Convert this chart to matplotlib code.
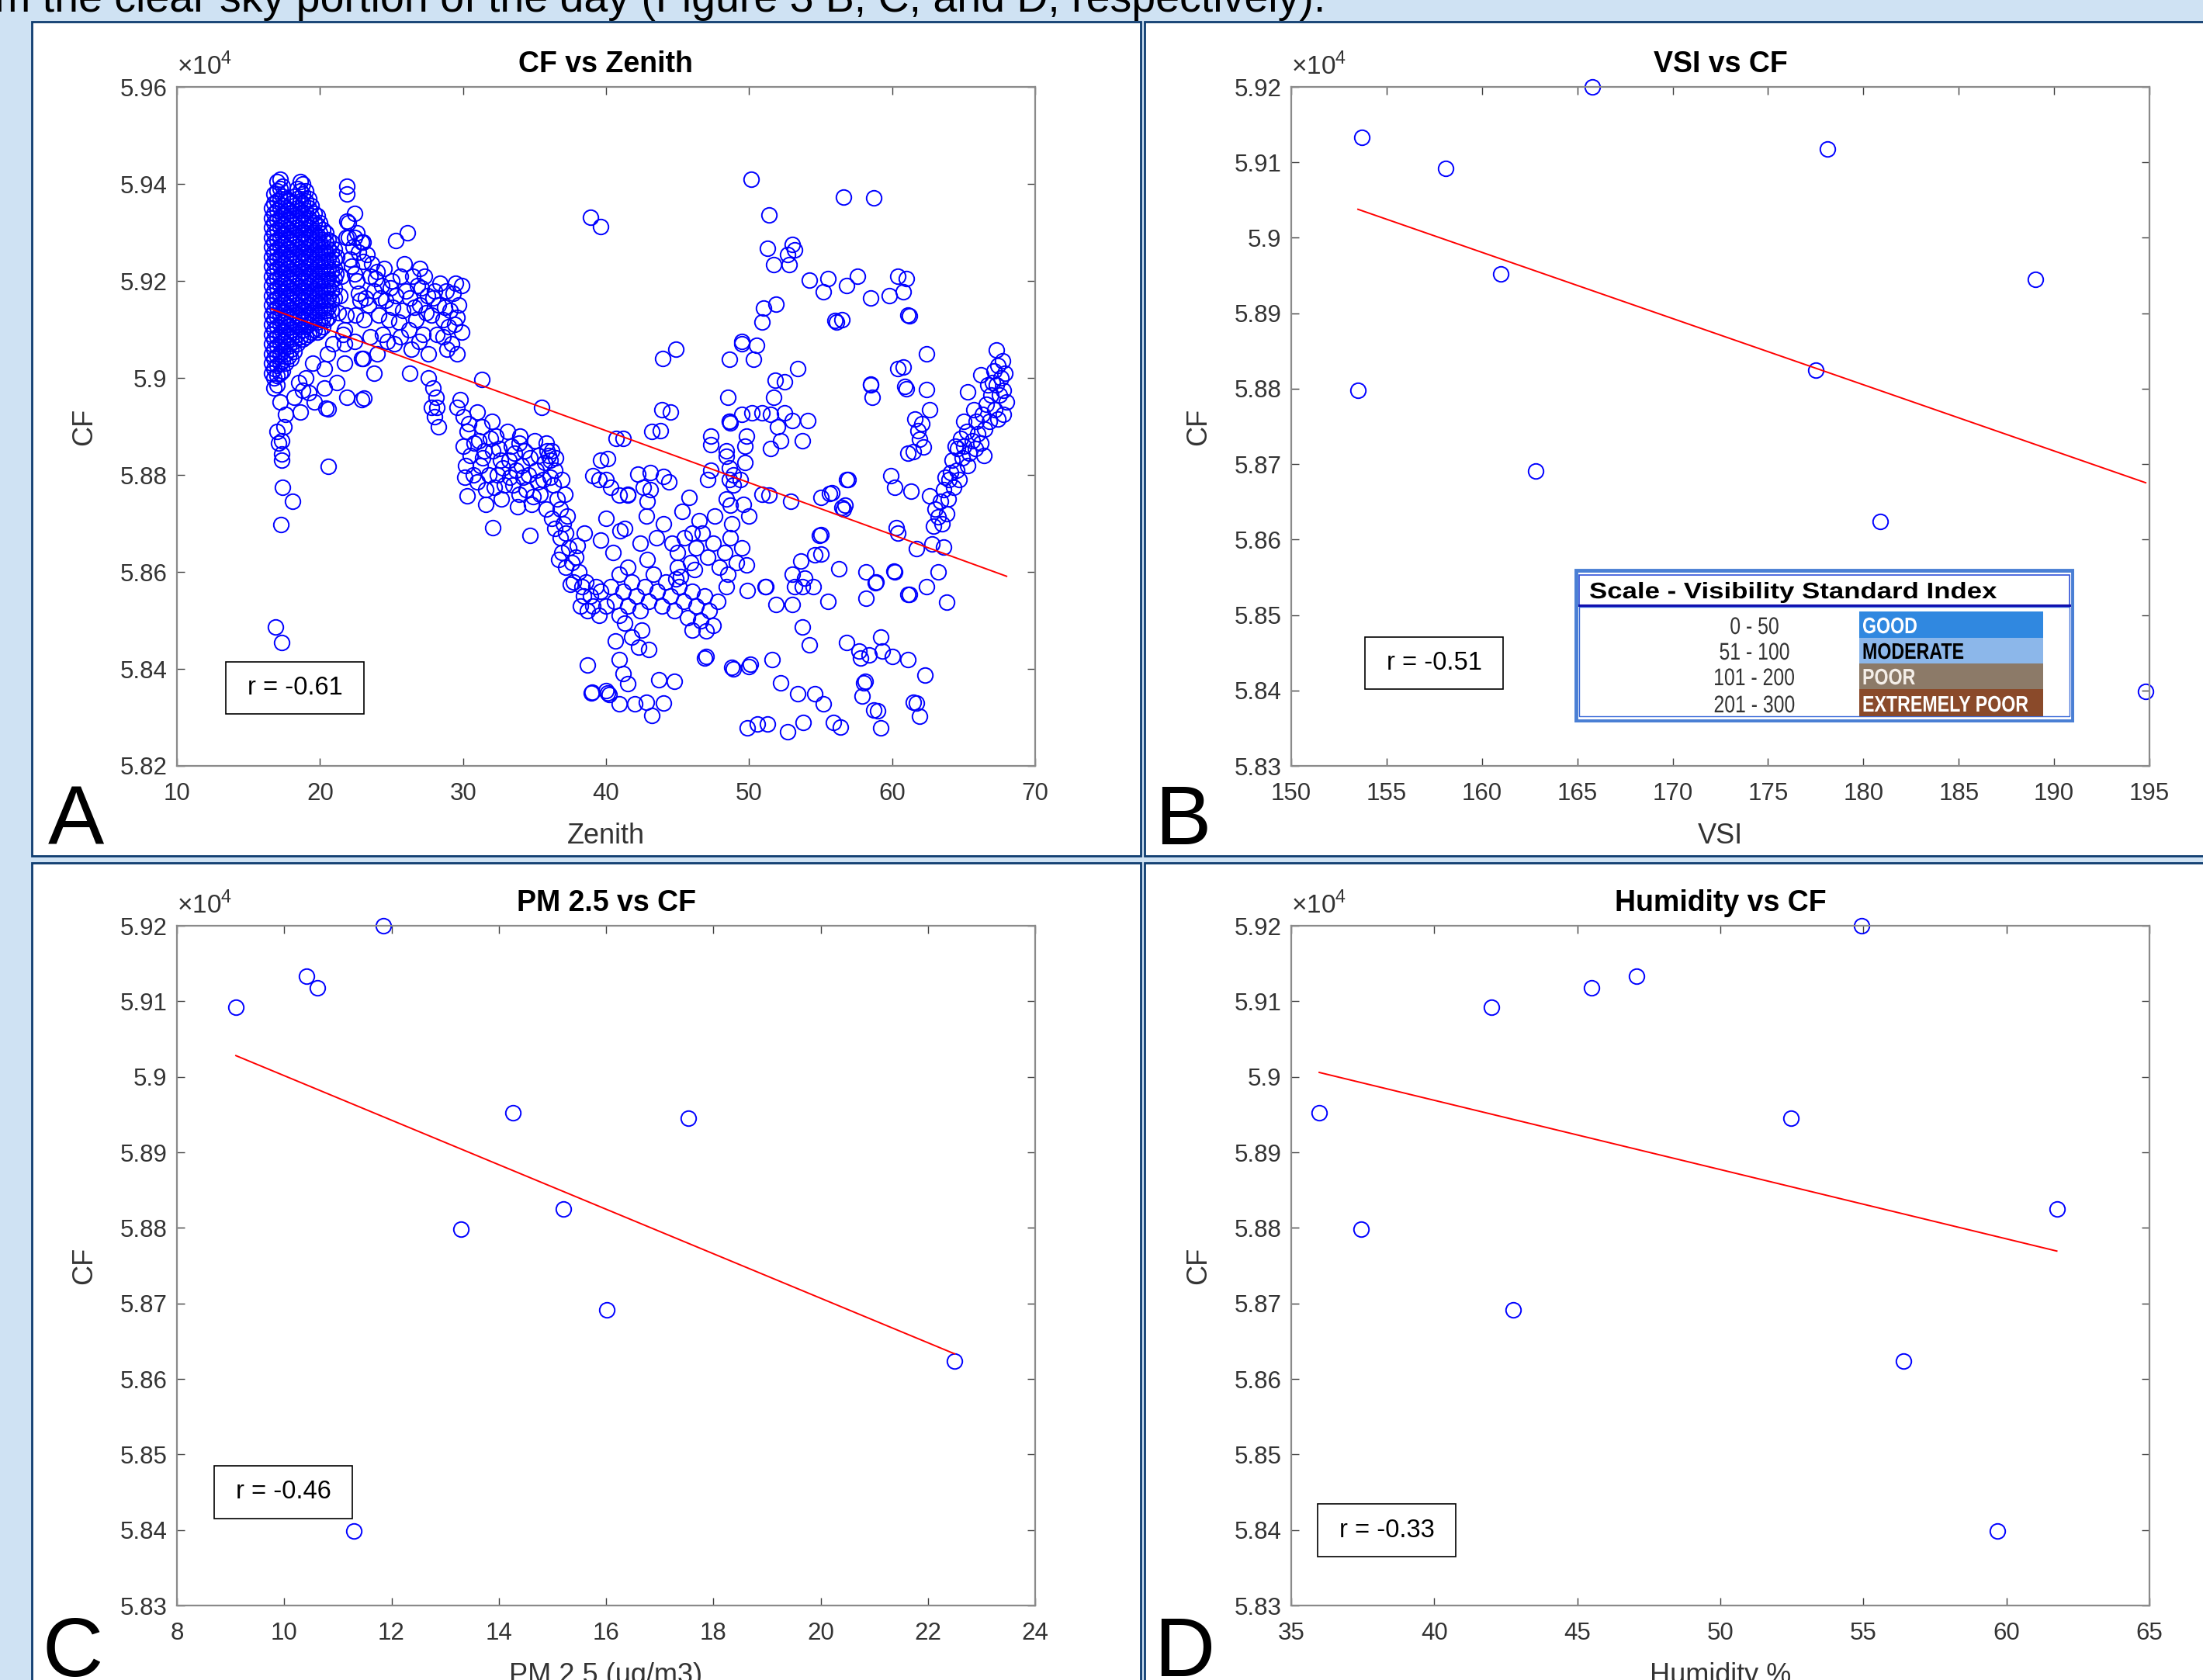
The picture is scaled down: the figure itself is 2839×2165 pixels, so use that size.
import numpy as np
import matplotlib.pyplot as plt
from matplotlib.patches import Rectangle, PathPatch
from matplotlib.ticker import FuncFormatter
from matplotlib.textpath import TextPath
from matplotlib.font_manager import FontProperties
from matplotlib.transforms import Affine2D

plt.rcParams['font.family'] = ['Liberation Sans', 'DejaVu Sans']
plt.rcParams['mathtext.fontset'] = 'custom'
plt.rcParams['mathtext.rm'] = 'Liberation Sans'

W, H = 2839, 2165

# daily CF (x10^4), shared by panels B, C, D
cf_days = [5.9133, 5.9092, 5.8952, 5.8798, 5.8691, 5.9200, 5.9118, 5.8825, 5.8624, 5.8945, 5.8399]
vsi = [153.7, 158.1, 161.0, 153.5, 162.8, 165.8, 178.1, 177.5, 180.9, 189.0, 194.8]
pm25 = [10.41, 9.1, 14.26, 13.29, 16.01, 11.85, 10.62, 15.2, 22.5, 17.53, 11.3]
humidity = [47.08, 42.0, 35.98, 37.45, 42.76, 54.93, 45.5, 61.76, 56.4, 52.48, 59.69]
r_labels = ['r = -0.61', 'r = -0.51', 'r = -0.46', 'r = -0.33']

# panel A: CF vs zenith, dense morning cluster as columns (zenith, [cf ...])
blob_cols = [
    (16.6, [5.935, 5.933, 5.931, 5.929, 5.927, 5.925, 5.923, 5.921, 5.919, 5.917, 5.915, 5.913, 5.911, 5.909,
            5.907, 5.905, 5.903, 5.901]),
    (16.8, [5.938, 5.936, 5.934, 5.932, 5.930, 5.928, 5.926, 5.924, 5.922, 5.920, 5.918, 5.916, 5.914, 5.912,
            5.910, 5.908, 5.906, 5.904, 5.902, 5.900, 5.898]),
    (17.0, [5.9405, 5.9385, 5.9365, 5.9345, 5.9325, 5.9305, 5.9285, 5.9265, 5.9245, 5.9225, 5.9205, 5.9185,
            5.9165, 5.9145, 5.9125, 5.9105, 5.9085, 5.9065, 5.9045, 5.9025, 5.9005, 5.8985]),
    (17.2, [5.941, 5.939, 5.937, 5.935, 5.933, 5.931, 5.929, 5.927, 5.925, 5.923, 5.921, 5.919, 5.917, 5.915,
            5.913, 5.911, 5.909, 5.907, 5.905, 5.903, 5.901]),
    (17.4, [5.9395, 5.9375, 5.9355, 5.9335, 5.9315, 5.9295, 5.9275, 5.9255, 5.9235, 5.9215, 5.9195, 5.9175,
            5.9155, 5.9135, 5.9115, 5.9095, 5.9075, 5.9055, 5.9035, 5.9015]),
    (17.6, [5.937, 5.935, 5.933, 5.931, 5.929, 5.927, 5.925, 5.923, 5.921, 5.919, 5.917, 5.915, 5.913, 5.911,
            5.909, 5.907, 5.905, 5.903]),
    (17.8, [5.9365, 5.9345, 5.9325, 5.9305, 5.9285, 5.9265, 5.9245, 5.9225, 5.9205, 5.9185, 5.9165, 5.9145,
            5.9125, 5.9105, 5.9085, 5.9065, 5.9045]),
    (18.0, [5.936, 5.934, 5.932, 5.930, 5.928, 5.926, 5.924, 5.922, 5.920, 5.918, 5.916, 5.914, 5.912, 5.910,
            5.908, 5.906, 5.904]),
    (18.2, [5.9375, 5.9355, 5.9335, 5.9315, 5.9295, 5.9275, 5.9255, 5.9235, 5.9215, 5.9195, 5.9175, 5.9155,
            5.9135, 5.9115, 5.9095, 5.9075, 5.9055]),
    (18.4, [5.939, 5.937, 5.935, 5.933, 5.931, 5.929, 5.927, 5.925, 5.923, 5.921, 5.919, 5.917, 5.915, 5.913,
            5.911, 5.909, 5.907]),
    (18.6, [5.9405, 5.9385, 5.9365, 5.9345, 5.9325, 5.9305, 5.9285, 5.9265, 5.9245, 5.9225, 5.9205, 5.9185,
            5.9165, 5.9145, 5.9125, 5.9105, 5.9085]),
    (18.8, [5.940, 5.938, 5.936, 5.934, 5.932, 5.930, 5.928, 5.926, 5.924, 5.922, 5.920, 5.918, 5.916, 5.914,
            5.912, 5.910, 5.908]),
    (19.0, [5.9385, 5.9365, 5.9345, 5.9325, 5.9305, 5.9285, 5.9265, 5.9245, 5.9225, 5.9205, 5.9185, 5.9165,
            5.9145, 5.9125, 5.9105, 5.9085]),
    (19.2, [5.937, 5.935, 5.933, 5.931, 5.929, 5.927, 5.925, 5.923, 5.921, 5.919, 5.917, 5.915, 5.913, 5.911,
            5.909]),
    (19.4, [5.9355, 5.9335, 5.9315, 5.9295, 5.9275, 5.9255, 5.9235, 5.9215, 5.9195, 5.9175, 5.9155, 5.9135,
            5.9115, 5.9095]),
    (19.6, [5.934, 5.932, 5.930, 5.928, 5.926, 5.924, 5.922, 5.920, 5.918, 5.916, 5.914, 5.912, 5.910]),
    (19.8, [5.9335, 5.9315, 5.9295, 5.9275, 5.9255, 5.9235, 5.9215, 5.9195, 5.9175, 5.9155, 5.9135, 5.9115,
            5.9095]),
    (20.0, [5.932, 5.930, 5.928, 5.926, 5.924, 5.922, 5.920, 5.918, 5.916, 5.914, 5.912, 5.910]),
    (20.2, [5.9305, 5.9285, 5.9265, 5.9245, 5.9225, 5.9205, 5.9185, 5.9165, 5.9145, 5.9125, 5.9105]),
    (20.4, [5.930, 5.928, 5.926, 5.924, 5.922, 5.920, 5.918, 5.916, 5.914, 5.912]),
    (20.6, [5.9285, 5.9265, 5.9245, 5.9225, 5.9205, 5.9185, 5.9165, 5.9145, 5.9125]),
    (20.8, [5.928, 5.926, 5.924, 5.922, 5.920, 5.918, 5.916, 5.914]),
    (21.0, [5.9265, 5.9245, 5.9225, 5.9205, 5.9185, 5.9165]),
]

# morning tail below / around the cluster
morning_pts = [
    (20.5, 5.905), (20.9, 5.907), (20.3, 5.902), (19.5, 5.903), (19.0, 5.900), (18.5, 5.899), (19.2, 5.897),
    (20.3, 5.898), (20.4, 5.8938), (18.8, 5.8975), (22.9, 5.8955), (23.1, 5.8958), (20.6, 5.8936), (20.6, 5.8817),
    (17.3, 5.8843), (17.3, 5.883), (17.4, 5.8774), (18.07, 5.8745), (17.25, 5.8697), (16.9, 5.8486), (17.3, 5.8455),
    (17.2, 5.895), (17.5, 5.890), (17.0, 5.889), (17.3, 5.887), (18.2, 5.896), (18.6, 5.893), (19.6, 5.895),
    (21.2, 5.899), (21.9, 5.896), (17.1, 5.8865), (17.6, 5.8925),
]

# band zenith 21-30
band_20_30 = [
    (21.2, 5.925), (21.5, 5.921), (21.4, 5.917), (21.8, 5.913), (21.6, 5.909), (22.0, 5.929), (22.3, 5.927),
    (22.6, 5.930), (22.9, 5.928), (22.2, 5.923), (22.6, 5.920), (23.0, 5.924), (22.8, 5.916), (23.1, 5.912),
    (22.5, 5.913), (23.5, 5.921), (23.8, 5.918), (23.4, 5.915), (24.0, 5.922), (24.3, 5.919), (24.1, 5.913),
    (24.6, 5.916), (24.8, 5.912), (24.4, 5.909), (25.0, 5.920), (25.3, 5.917), (25.6, 5.921), (25.3, 5.9283),
    (26.1, 5.9300), (25.8, 5.914), (26.2, 5.910), (26.0, 5.918), (26.5, 5.921), (26.8, 5.919), (27.0, 5.915),
    (27.3, 5.921), (27.5, 5.917), (26.7, 5.912), (27.2, 5.909), (27.8, 5.913), (28.0, 5.918), (28.3, 5.915),
    (28.6, 5.912), (28.2, 5.909), (28.8, 5.918), (29.1, 5.914), (29.4, 5.911), (29.2, 5.907), (29.7, 5.915),
    (29.9, 5.919), (29.6, 5.905), (28.9, 5.906), (27.6, 5.905), (26.4, 5.906), (25.2, 5.907), (24.0, 5.905),
    (23.0, 5.904), (23.8, 5.901), (26.3, 5.901), (21.7, 5.910), (21.7, 5.907), (21.7, 5.903), (22.9, 5.904),
    (21.9, 5.9395), (21.9, 5.938), (22.4, 5.934), (22.0, 5.932), (21.8, 5.929), (22.4, 5.929), (23.0, 5.928),
    (22.7, 5.926), (21.9, 5.9323), (27.6, 5.900), (27.9, 5.898), (28.1, 5.896), (28.2, 5.894), (28.0, 5.892),
    (28.3, 5.890), (27.8, 5.894), (31.3, 5.8997),
    (22.1, 5.9245), (22.4, 5.9215), (22.7, 5.9175), (23.3, 5.9255), (23.6, 5.9235), (23.9, 5.9205), (24.2, 5.9165),
    (24.5, 5.9225), (24.9, 5.9185), (25.1, 5.9145), (25.5, 5.9115), (25.9, 5.9235), (26.3, 5.9165), (26.6, 5.9145),
    (27.0, 5.9225), (27.1, 5.9185), (27.4, 5.9135), (27.9, 5.9165), (28.4, 5.9195), (28.7, 5.9145), (29.0, 5.9105),
    (29.3, 5.9175), (29.6, 5.9125), (29.9, 5.9095), (29.5, 5.9195), (28.6, 5.9085), (26.9, 5.9075), (25.6, 5.9085),
    (24.7, 5.9075), (23.5, 5.9085), (22.4, 5.9075), (23.2, 5.9165), (21.3, 5.9135), (21.1, 5.9215),
]

# band zenith 30-40, descending
band_30_40 = [
    (30.0, 5.892), (30.3, 5.889), (30.0, 5.886), (30.5, 5.884), (30.2, 5.882), (30.7, 5.880), (31.0, 5.893),
    (31.3, 5.890), (31.1, 5.887), (31.5, 5.885), (31.2, 5.882), (31.8, 5.880), (31.6, 5.877), (32.0, 5.891),
    (32.3, 5.888), (32.1, 5.885), (32.6, 5.883), (32.4, 5.880), (32.9, 5.878), (32.7, 5.875), (33.1, 5.889),
    (33.4, 5.886), (33.2, 5.883), (33.7, 5.881), (33.5, 5.878), (33.9, 5.876), (34.0, 5.888), (34.3, 5.885),
    (34.1, 5.882), (34.6, 5.880), (34.4, 5.877), (34.8, 5.874), (35.0, 5.887), (35.3, 5.884), (35.1, 5.881),
    (35.6, 5.879), (35.4, 5.876), (35.8, 5.873), (35.9, 5.885), (36.1, 5.883), (36.0, 5.884), (36.2, 5.885),
    (36.4, 5.881), (36.3, 5.878), (36.6, 5.875), (36.8, 5.873), (36.9, 5.879), (37.1, 5.876), (29.6, 5.894),
    (29.8, 5.8955), (33.9, 5.8866), (35.5, 5.894), (32.1, 5.8691), (34.7, 5.8675), (30.3, 5.8757), (31.6, 5.874),
    (36.4, 5.869), (36.8, 5.867), (37.2, 5.868), (36.9, 5.864), (37.4, 5.865), (37.6, 5.862), (37.2, 5.861),
    (37.9, 5.863), (38.1, 5.860), (37.7, 5.858), (38.3, 5.857), (38.6, 5.858), (38.4, 5.855), (38.9, 5.855),
    (39.1, 5.853), (38.7, 5.852), (39.3, 5.857), (38.0, 5.8655), (37.5, 5.8575), (36.7, 5.8625), (39.5, 5.851),
    (38.2, 5.853),
    (30.4, 5.8905), (30.8, 5.8865), (31.4, 5.8835), (31.9, 5.8875), (32.5, 5.8855), (32.8, 5.8815), (33.3, 5.8795),
    (33.6, 5.8845), (34.2, 5.8795), (34.7, 5.8835), (35.2, 5.8785), (35.7, 5.8825), (36.1, 5.8795), (36.5, 5.8835),
    (35.8, 5.8865), (34.9, 5.8755), (33.8, 5.8735), (32.2, 5.8775), (31.0, 5.8785), (30.1, 5.8795), (37.3, 5.8715),
    (37.0, 5.870), (36.2, 5.871),
]

# valley and middle region, zenith 39-54
valley_pts = [
    (39.6, 5.856), (40.0, 5.853), (40.3, 5.857), (40.6, 5.854), (40.9, 5.851), (41.2, 5.856), (41.5, 5.853),
    (41.8, 5.858), (42.1, 5.855), (42.4, 5.852), (42.7, 5.857), (43.0, 5.854), (43.3, 5.8595), (43.6, 5.856),
    (43.9, 5.853), (44.2, 5.858), (44.5, 5.855), (44.8, 5.852), (45.1, 5.857), (45.4, 5.854), (45.7, 5.8505),
    (46.0, 5.856), (46.3, 5.853), (46.6, 5.850), (46.9, 5.855), (47.2, 5.852), (47.5, 5.849), (47.8, 5.854),
    (44.9, 5.8585), (45.2, 5.859), (45.0, 5.861), (40.9, 5.8595), (41.5, 5.861), (42.9, 5.8625), (47.0, 5.8478),
    (46.0, 5.848), (44.6, 5.866), (45.0, 5.864), (45.5, 5.867), (45.9, 5.862), (46.3, 5.865), (46.7, 5.868),
    (47.1, 5.863), (47.5, 5.866), (47.9, 5.861), (48.3, 5.864), (48.7, 5.867), (49.1, 5.862), (49.5, 5.865),
    (49.8, 5.8615), (46.2, 5.8605), (48.5, 5.8595), (42.4, 5.866), (41.0, 5.8685), (39.6, 5.8665), (40.5, 5.864),
    (40.13, 5.8834), (42.2, 5.8802), (39.1, 5.8798), (40.0, 5.879), (40.9, 5.8758), (41.5, 5.8758), (43.1, 5.877),
    (44.4, 5.8786), (42.9, 5.8745), (45.8, 5.8754), (48.7, 5.8738), (51.4, 5.8758), (52.9, 5.8745), (41.2, 5.8875),
    (47.3, 5.8863), (49.7, 5.886), (51.5, 5.8855), (52.2, 5.887), (53.7, 5.887), (48.4, 5.8838), (49.7, 5.8826),
    (48.6, 5.8814), (47.1, 5.879), (48.6, 5.879), (49.4, 5.879), (43.8, 5.8891), (44.5, 5.893), (48.6, 5.891),
    (52.0, 5.890), (40.7, 5.8875), (39.6, 5.883), (39.5, 5.879), (40.3, 5.8775), (41.5, 5.876), (43.1, 5.8805),
    (44.0, 5.8797), (42.6, 5.8775), (43.2, 5.889), (43.9, 5.8934), (38.5, 5.868), (40.0, 5.871), (41.3, 5.869),
    (42.8, 5.8715), (44.0, 5.870), (45.3, 5.8725), (46.5, 5.8705), (47.6, 5.8715), (48.8, 5.870), (50.0, 5.8715),
    (43.5, 5.867), (46.0, 5.868), (41.8, 5.8465), (42.3, 5.8445), (43.0, 5.8440), (41.3, 5.8495), (42.5, 5.848),
]

# low scattered points
low_pts = [
    (40.66, 5.8457), (40.9, 5.8419), (41.2, 5.839), (41.5, 5.837), (38.99, 5.835), (40.1, 5.835), (42.0, 5.8328),
    (44.0, 5.833), (44.8, 5.8375), (47.0, 5.8425), (48.8, 5.8404), (50.1, 5.841), (39.0, 5.8352), (40.2, 5.8348),
    (40.9, 5.8328), (42.8, 5.8332), (43.2, 5.8304), (43.7, 5.8377), (46.9, 5.8422), (48.9, 5.840), (50.0, 5.8405),
    (51.6, 5.842), (52.2, 5.8372), (53.4, 5.8349), (54.6, 5.8349), (55.2, 5.8328), (55.9, 5.829), (56.4, 5.828),
    (49.9, 5.8279), (50.6, 5.8287), (51.3, 5.8287), (52.7, 5.827), (53.8, 5.829), (58.0, 5.8372), (57.9, 5.8344),
    (58.7, 5.8315), (59.2, 5.8279), (61.5, 5.8332), (38.7, 5.8408), (40.0, 5.8355),
]

# afternoon scatter, zenith 38-64
upper_pts = [
    (38.9, 5.9332), (39.6, 5.9312), (50.17, 5.941), (56.6, 5.9373), (58.7, 5.9372), (51.4, 5.9336), (51.3, 5.9267),
    (53.0, 5.9275), (52.7, 5.9254), (51.7, 5.9234), (52.8, 5.9234), (54.2, 5.9201), (55.5, 5.9205), (55.2, 5.9177),
    (56.8, 5.919), (60.4, 5.9209), (61.0, 5.9205), (60.8, 5.9177), (59.8, 5.9169), (61.2, 5.9128), (56.1, 5.9115),
    (51.0, 5.9144), (51.9, 5.9152), (50.9, 5.9115), (49.5, 5.9071), (50.5, 5.9067), (50.3, 5.9038), (48.6, 5.9038),
    (53.4, 5.902), (43.95, 5.904), (44.86, 5.906), (51.8, 5.8996), (52.5, 5.8992), (51.7, 5.896), (48.5, 5.896),
    (60.4, 5.902), (61.0, 5.8977), (58.5, 5.8985), (58.6, 5.896), (50.2, 5.8928), (50.9, 5.8928), (52.5, 5.8928),
    (53.0, 5.8912), (54.1, 5.8912), (48.6, 5.891), (49.5, 5.8925), (51.5, 5.8925), (48.7, 5.8907), (47.3, 5.888),
    (49.8, 5.888), (48.4, 5.885), (47.3, 5.881), (48.9, 5.880), (48.9, 5.878), (48.4, 5.875), (49.6, 5.874),
    (50.9, 5.876), (56.0, 5.9118), (61.1, 5.913), (58.5, 5.8988), (56.9, 5.879), (59.9, 5.8798), (60.2, 5.8774),
    (61.3, 5.8766), (55.0, 5.8754), (55.6, 5.8762), (56.5, 5.8733), (56.7, 5.8738), (56.8, 5.8791), (55.8, 5.8763),
    (56.6, 5.8729), (55.0, 5.8677), (55.0, 5.8637), (60.4, 5.868), (60.3, 5.8692), (54.9, 5.8676), (54.6, 5.8635),
    (53.6, 5.8622), (56.3, 5.8606), (58.2, 5.86), (58.9, 5.858), (60.1, 5.8602), (58.2, 5.8545), (61.1, 5.8553),
    (55.5, 5.854), (51.9, 5.8533), (53.0, 5.8533), (53.2, 5.857), (53.7, 5.857), (54.5, 5.857), (53.0, 5.8595),
    (53.9, 5.8587), (49.9, 5.8561), (51.1, 5.8569), (53.7, 5.8487), (54.2, 5.845), (56.8, 5.8455), (57.7, 5.8437),
    (58.4, 5.8429), (59.2, 5.8466), (59.3, 5.8437), (60.0, 5.8425), (61.1, 5.842), (51.2, 5.8569), (48.4, 5.857),
    (61.5, 5.8848), (61.8, 5.8891), (61.1, 5.8845), (62.2, 5.8857), (61.9, 5.8873), (62.1, 5.8905), (61.6, 5.8915),
    (62.6, 5.8757), (60.9, 5.8983), (60.8, 5.9022), (62.4, 5.8976), (62.4, 5.905), (62.6, 5.8934), (62.8, 5.8657),
    (61.7, 5.8648), (63.6, 5.8651), (63.2, 5.860), (62.4, 5.857), (61.2, 5.8554), (63.8, 5.8537), (60.2, 5.860),
    (58.8, 5.8577), (57.8, 5.8422), (62.3, 5.8388), (58.1, 5.8374), (59.0, 5.8314), (61.7, 5.833), (61.9, 5.8302),
    (53.2, 5.9264), (57.6, 5.921), (58.5, 5.9165), (56.5, 5.912), (49.5, 5.9075),
]

# evening cluster, zenith 62-68
evening_pts = [
    (63.2, 5.8714), (63.0, 5.873), (63.5, 5.870), (63.8, 5.872), (62.9, 5.8695), (63.4, 5.8745), (63.6, 5.877),
    (64.0, 5.879), (63.9, 5.875), (64.3, 5.8775), (64.5, 5.881), (64.2, 5.883), (64.7, 5.879), (64.9, 5.8835),
    (65.0, 5.886), (64.6, 5.8855), (65.3, 5.882), (65.4, 5.8845), (65.6, 5.887), (65.2, 5.889), (65.8, 5.8855),
    (66.0, 5.8885), (65.9, 5.891), (66.2, 5.8865), (66.3, 5.8925), (65.3, 5.8972), (66.2, 5.9007), (66.5, 5.8895),
    (66.6, 5.8945), (66.8, 5.891), (66.9, 5.8965), (67.0, 5.899), (67.2, 5.8935), (67.3, 5.9057), (67.4, 5.9025),
    (67.5, 5.8965), (67.6, 5.900), (67.7, 5.9035), (67.8, 5.8975), (67.9, 5.901), (68.0, 5.895), (67.4, 5.8915),
    (67.8, 5.8925), (67.3, 5.8985), (67.1, 5.9015), (66.7, 5.8985), (65.0, 5.891), (64.8, 5.8875), (64.1, 5.8805),
    (63.7, 5.8795), (66.4, 5.884), (64.4, 5.886), (65.7, 5.8935),
]

# regression line drawn in panel A
fit_a_zen = [16.6, 68.0]
fit_a_cf = [5.9142, 5.8591]

# VSI scale table in panel B
vsi_ranges = ['0 - 50', '51 - 100', '101 - 200', '201 - 300']
vsi_classes = ['GOOD', 'MODERATE', 'POOR', 'EXTREMELY POOR']
vsi_colors = ['#3088e0', '#8cb7ea', '#8c7a68', '#8a4a2a']
vsi_text_colors = ['white', 'black', '#f4eee8', 'white']

# ---- build panel A arrays ----
zen_a, cf_a = [], []
for z, col in blob_cols:
    zen_a += [z] * len(col)
    cf_a += col
for grp in [morning_pts, band_20_30, band_30_40, valley_pts, low_pts, upper_pts, evening_pts]:
    zen_a += [p[0] for p in grp]
    cf_a += [p[1] for p in grp]

fig = plt.figure(figsize=(W / 100, H / 100), dpi=100)
fig.patch.set_facecolor('#cfe2f3')


def px_rect(l, t, r, b):
    return [l / W, 1 - b / H, (r - l) / W, (b - t) / H]


# white panel frames
for l, t, r, b in [(41, 28, 1470, 1103), (1475, 28, 2860, 1103), (41, 1112, 1470, 2190), (1475, 1112, 2860, 2190)]:
    x0, y0, w, h = px_rect(l, t, r, b)
    fig.add_artist(Rectangle((x0, y0), w, h, transform=fig.transFigure, facecolor='white',
                             edgecolor='#0f3d70', lw=2.0, zorder=0))

fig.text(-7 / W, 1 - 15 / H, 'm the clear sky portion of the day (Figure 3 B, C, and D, respectively).',
         fontsize=40, va='baseline', ha='left', color='black')

mk = dict(ls='none', marker='o', ms=14, mfc='none', mec='blue', mew=1.4)
fmt = FuncFormatter(lambda v, p: f'{v:g}')


def style(ax, xlim, xticks, ylim, yticks, title, xlabel, rtxt, rpos):
    ax.set_xlim(xlim)
    ax.set_ylim(ylim)
    ax.set_xticks(xticks)
    ax.set_yticks(yticks)
    ax.yaxis.set_major_formatter(fmt)
    ax.tick_params(direction='in', length=7, width=1.0, color='#404040', labelcolor='#333333',
                   labelsize=22.5, top=True, right=True)
    ax.tick_params(axis='x', pad=15)
    ax.tick_params(axis='y', pad=9)
    for s in ax.spines.values():
        s.set_color('#8a8a8a')
        s.set_linewidth(1.6)
    ax.set_title(title, fontsize=27, fontweight='bold', pad=14, color='black')
    ax.set_xlabel(xlabel, fontsize=26, color='#333333')
    ax.set_ylabel('CF', fontsize=26, color='#333333')
    ax.xaxis.set_label_coords(0.5, -0.083)
    ax.yaxis.set_label_coords(-0.092, 0.5)
    ax.text(0.0, 1.01, r'$\times10^{4}$', transform=ax.transAxes, fontsize=24, color='#333333',
            ha='left', va='bottom')
    bw, bh = 178 / 1106, 67 / 875
    ax.add_patch(Rectangle((rpos[0] - bw / 2, rpos[1] - bh / 2), bw, bh, transform=ax.transAxes,
                           facecolor='white', edgecolor='black', lw=1.2, zorder=5))
    ax.text(rpos[0], rpos[1], rtxt, transform=ax.transAxes, fontsize=23.5, ha='center', va='center',
            color='black', zorder=6)


axA = fig.add_axes(px_rect(228, 112, 1334, 987))
axB = fig.add_axes(px_rect(1664, 112, 2770, 987))
axC = fig.add_axes(px_rect(228, 1193, 1334, 2069))
axD = fig.add_axes(px_rect(1664, 1193, 2770, 2069))

# A
axA.plot(zen_a, cf_a, **mk)
axA.plot(fit_a_zen, fit_a_cf, color='red', lw=1.4)
style(axA, (10, 70), range(10, 71, 10), (5.82, 5.96), np.arange(5.82, 5.961, 0.02),
      'CF vs Zenith', 'Zenith', r_labels[0], (0.1374, 0.1154))

# B, C, D with least-squares lines
for ax, xv, xlim, xt, title, xl, rt, rp in [
    (axB, vsi, (150, 195), range(150, 196, 5), 'VSI vs CF', 'VSI', r_labels[1], (0.1664, 0.1509)),
    (axC, pm25, (8, 24), range(8, 25, 2), 'PM 2.5 vs CF', 'PM 2.5 (ug/m3)', r_labels[2], (0.1239, 0.1667)),
    (axD, humidity, (35, 65), range(35, 66, 5), 'Humidity vs CF', 'Humidity %', r_labels[3], (0.1112, 0.1107)),
]:
    ax.plot(xv, cf_days, **mk)
    k, c = np.polyfit(xv, cf_days, 1)
    xx = np.array([min(xv), max(xv)])
    ax.plot(xx, k * xx + c, color='red', lw=1.4)
    style(ax, xlim, xt, (5.83, 5.92), np.arange(5.83, 5.921, 0.01), title, xl, rt, rp)
    for m in ax.lines:
        m.set_clip_on(False)

# panel letters
for ch, x, y in [('A', 62, 1088), ('B', 1488, 1088), ('C', 54, 2160), ('D', 1487, 2160)]:
    fig.text(x / W, 1 - y / H, ch, fontsize=78, ha='left', va='baseline', color='black')

# VSI scale table (a pasted image in the source, so glyphs are stretched / condensed)
lg = fig.add_axes(px_rect(2029, 733, 2673, 931))
lg.set_xlim(0, 644)
lg.set_ylim(198, 0)
lg.axis('off')


def stretched_text(ax, x, y, s, size, sx, weight='normal', color='black', ha='left'):
    tp = TextPath((0, 0), s, size=size, prop=FontProperties(family='Liberation Sans', weight=weight))
    bb = tp.get_extents()
    if ha == 'center':
        x = x - (bb.x0 + bb.width / 2) * sx
    tr = Affine2D().scale(sx, -1) .translate(x, y) + ax.transData
    ax.add_patch(PathPatch(tp, transform=tr, facecolor=color, edgecolor='none', lw=0))


lg.add_patch(Rectangle((2, 2), 640, 194, facecolor='white', edgecolor='#4a7fd4', lw=3.5))
lg.add_patch(Rectangle((6, 8), 632, 39, facecolor='white', edgecolor='#3050d8', lw=1.2))
lg.plot([6, 638], [47, 47], color='#1010b0', lw=2.2)
lg.add_patch(Rectangle((6, 49), 632, 141, facecolor='white', edgecolor='#3a6ad8', lw=1.0))
stretched_text(lg, 19, 38, 'Scale - Visibility Standard Index', 29, 1.2, weight='bold')
row_top = [55, 89, 122, 155, 190]
for i in range(4):
    lg.add_patch(Rectangle((367, row_top[i]), 237, row_top[i + 1] - row_top[i], facecolor=vsi_colors[i],
                           edgecolor='none'))
    stretched_text(lg, 371, row_top[i + 1] - 6, vsi_classes[i], 29, 0.8, weight='bold',
                   color=vsi_text_colors[i])
    stretched_text(lg, 232, row_top[i + 1] - 5, vsi_ranges[i], 31, 0.8, color='#333333', ha='center')

fig.savefig('out.png', dpi=100, facecolor=fig.get_facecolor())
